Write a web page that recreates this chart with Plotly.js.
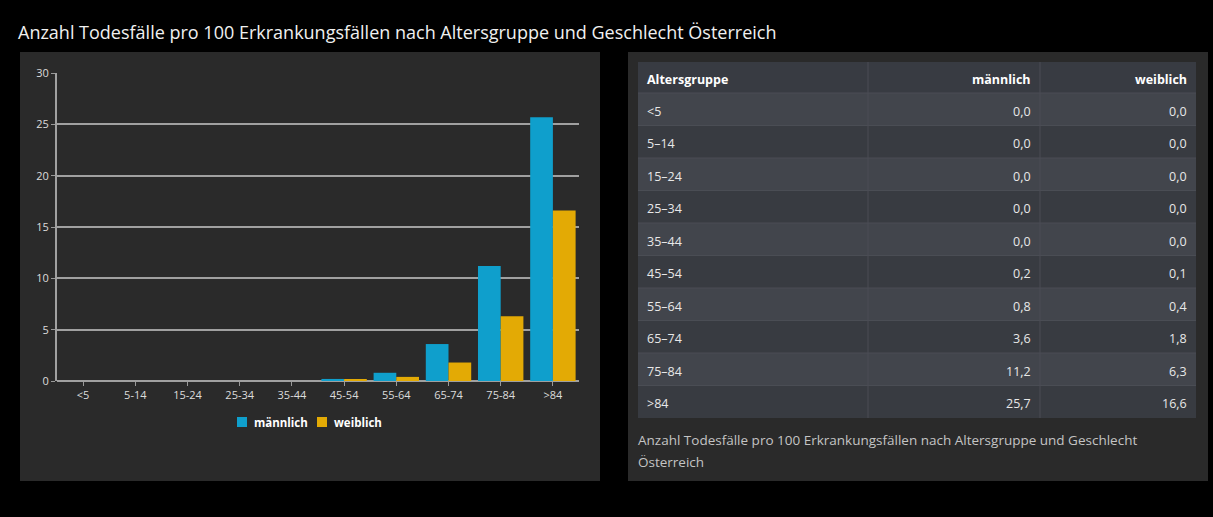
<!DOCTYPE html>
<html>
<head>
<meta charset="utf-8">
<script src="https://cdn.plot.ly/plotly-3.0.1.min.js"></script>
<style>
  html, body { margin: 0; padding: 0; background: #000; }
  #chart { width: 1213px; height: 517px; }
</style>
</head>
<body>
<div id="chart"></div>
<script>
// ---- data ----
const chartLabels = ["<5", "5-14", "15-24", "25-34", "35-44", "45-54", "55-64", "65-74", "75-84", ">84"];
const tableLabels = ["<5", "5–14", "15–24", "25–34", "35–44", "45–54", "55–64", "65–74", "75–84", ">84"];
const maleValues = [0.0, 0.0, 0.0, 0.0, 0.0, 0.2, 0.8, 3.6, 11.2, 25.7];
const femaleValues = [0.0, 0.0, 0.0, 0.0, 0.0, 0.1, 0.4, 1.8, 6.3, 16.6];
const seriesNames = ["männlich", "weiblich"];
const tableHeader = ["Altersgruppe", "männlich", "weiblich"];
const titleText = "Anzahl Todesfälle pro 100 Erkrankungsfällen nach Altersgruppe und Geschlecht Österreich";
const captionLines = ["Anzahl Todesfälle pro 100 Erkrankungsfällen nach Altersgruppe und Geschlecht", "Österreich"];

// ---- helpers ----
const W = 1213, H = 517;
const px = x => x / W;
const py = y => 1 - y / H;
const fmt = v => v.toFixed(1).replace('.', ',');

const blue = "#0f9fcc";
const yellow = "#e3aa05";
const seriesColors = [blue, yellow];
const panel = "#2a2a2a";
const font = "Open Sans, Noto Sans, sans-serif";

// ---- table geometry (pixels) ----
const tLeft = 638, tRight = 1196, tTop = 62, headH = 31, rowH = 32.5;
const colEdges = [638, 868, 1040, 1196];
const colAlign = ["left", "right", "right"];
const textPad = 7;

const shapes = [
  { type: "rect", xref: "paper", yref: "paper", layer: "below",
    x0: px(20), x1: px(600), y0: py(481), y1: py(52),
    fillcolor: panel, line: { width: 0 } },
  { type: "rect", xref: "paper", yref: "paper", layer: "below",
    x0: px(628), x1: px(1208), y0: py(481), y1: py(52),
    fillcolor: panel, line: { width: 0 } }
];
const annotations = [];

// header row
shapes.push({ type: "rect", xref: "paper", yref: "paper", layer: "below",
  x0: px(tLeft), x1: px(tRight), y0: py(tTop + headH), y1: py(tTop),
  fillcolor: "#383b42", line: { width: 0 } });
// body rows
tableLabels.forEach((_, i) => {
  const y0 = tTop + headH + i * rowH;
  shapes.push({ type: "rect", xref: "paper", yref: "paper", layer: "below",
    x0: px(tLeft), x1: px(tRight), y0: py(y0 + rowH), y1: py(y0),
    fillcolor: i % 2 === 0 ? "#42454c" : "#383b41", line: { width: 0 } });
  shapes.push({ type: "line", xref: "paper", yref: "paper", layer: "below",
    x0: px(tLeft), x1: px(tRight), y0: py(y0), y1: py(y0),
    line: { color: "#4a4d54", width: 1 } });
});
const tBottom = tTop + headH + tableLabels.length * rowH;
// column dividers
[colEdges[1], colEdges[2]].forEach(x => {
  shapes.push({ type: "line", xref: "paper", yref: "paper", layer: "below",
    x0: px(x), x1: px(x), y0: py(tBottom), y1: py(tTop),
    line: { color: "#4a4d54", width: 1 } });
});

function cellAnn(text, col, yCenter, bold) {
  const left = colAlign[col] === "left";
  annotations.push({
    text: bold ? "<b>" + text + "</b>" : text,
    xref: "paper", yref: "paper",
    x: px(left ? colEdges[col] + textPad : colEdges[col + 1] - textPad),
    xanchor: left ? "left" : "right",
    y: py(yCenter), yanchor: "middle",
    showarrow: false,
    font: { family: font, size: 12.5, color: bold ? "#ffffff" : "#e8e8e8" }
  });
}
tableHeader.forEach((h, c) => cellAnn(h, c, tTop + headH / 2 + 2, true));
const cellCols = [tableLabels, maleValues.map(fmt), femaleValues.map(fmt)];
tableLabels.forEach((_, i) => {
  const yc = tTop + headH + i * rowH + rowH / 2 + 2;
  cellCols.forEach((col, c) => cellAnn(col[i], c, yc, false));
});

// caption
captionLines.forEach((line, i) => {
  annotations.push({ text: line, xref: "paper", yref: "paper",
    x: px(636), xanchor: "left", y: py(440 + i * 22), yanchor: "middle",
    showarrow: false, align: "left",
    font: { family: font, size: 13.5, color: "#c4c4c4" } });
});

// manual legend
const legendItems = [{ sq: 237, tx: 252 }, { sq: 317, tx: 332 }];
seriesNames.forEach((name, i) => {
  shapes.push({ type: "rect", xref: "paper", yref: "paper",
    x0: px(legendItems[i].sq), x1: px(legendItems[i].sq + 10),
    y0: py(427), y1: py(417),
    fillcolor: seriesColors[i], line: { width: 0 } });
  annotations.push({ text: "<b>" + name + "</b>", xref: "paper", yref: "paper",
    x: px(legendItems[i].tx), xanchor: "left", y: py(422), yanchor: "middle",
    showarrow: false,
    font: { family: font, size: 11.5, color: "#ffffff" } });
});

const traces = seriesNames.map((name, i) => ({
  type: "bar", name: name, x: chartLabels, y: i === 0 ? maleValues : femaleValues,
  marker: { color: seriesColors[i] }, xaxis: "x", yaxis: "y", hoverinfo: "x+y"
}));

const layout = {
  width: W, height: H,
  margin: { l: 0, r: 0, t: 0, b: 0 },
  paper_bgcolor: "#000000",
  plot_bgcolor: panel,
  font: { family: font, color: "#e0e0e0" },
  title: {
    text: titleText,
    x: px(18), xanchor: "left", xref: "paper",
    y: py(33), yanchor: "middle", yref: "paper",
    font: { family: font, size: 18, color: "#f0f0f0" }
  },
  barmode: "group",
  bargap: 0.13,
  bargroupgap: 0,
  showlegend: false,
  xaxis: {
    domain: [px(57), px(579)],
    anchor: "y",
    type: "category",
    showgrid: false,
    ticks: "outside", ticklen: 4, tickcolor: "#999",
    tickfont: { family: font, size: 11, color: "#dcdcdc" },
    showline: false,
    fixedrange: true
  },
  yaxis: {
    domain: [py(381), py(73)],
    anchor: "x",
    range: [0, 30],
    dtick: 5,
    showgrid: true, gridcolor: "#a0a0a0", gridwidth: 1.5,
    zeroline: true, zerolinecolor: "#a0a0a0", zerolinewidth: 2,
    showline: true, linecolor: "#a0a0a0", linewidth: 2,
    ticks: "outside", ticklen: 4, tickcolor: "#999",
    tickfont: { family: font, size: 11, color: "#dcdcdc" },
    fixedrange: true
  },
  shapes: shapes,
  annotations: annotations
};

Plotly.newPlot("chart", traces, layout, { displayModeBar: false });
</script>
</body>
</html>
